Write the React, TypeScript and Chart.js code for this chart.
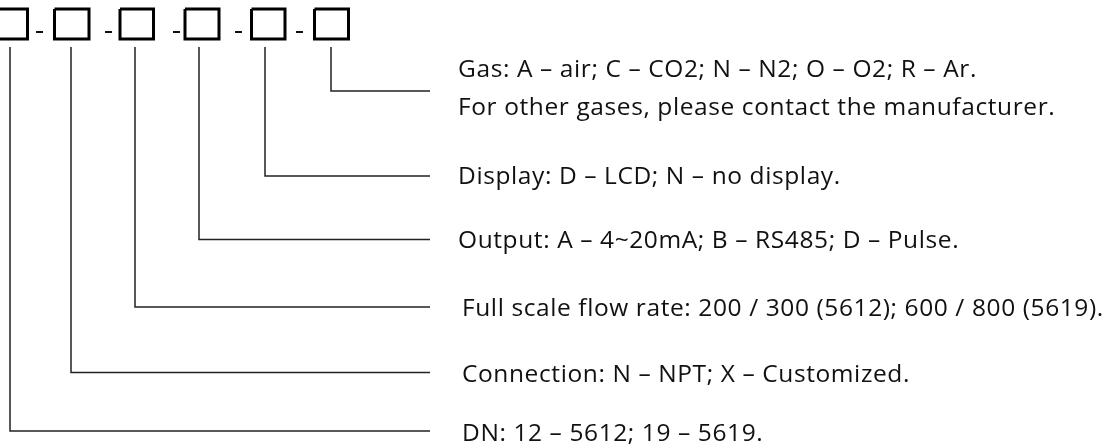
import React, { useEffect, useRef } from "react";
import { Chart, registerables } from "chart.js";

Chart.register(...registerables);

// Ordering code segments (left to right) and their meanings
const segmentNames = ["DN", "Connection", "Full scale", "Output", "Display", "Gas"];

// Box outline edges (diagram units)
const boxLeft = [-6.5, 54.5, 120, 185, 251.5, 314.5];
const boxRight = [27.5, 89, 153.5, 219, 285, 348.5];
const boxTop = 9;
const boxBottom = 39;

// Dashes between boxes
const dashStart = [36, 105, 173, 235, 296];
const dashEnd = [43, 112, 180, 242, 303];
const dashY = 32;

// Leader lines: x under each box, y of the horizontal run
const leaderX = [10, 71, 135, 199, 265, 331];
const leaderY = [431, 372.5, 307, 239.5, 176, 91];
const leaderTop = 47;
const leaderEnd = 430;

// Label texts for each segment
const labelLines: string[][] = [
  ["DN: 12 – 5612; 19 – 5619."],
  ["Connection: N – NPT; X – Customized."],
  ["Full scale flow rate: 200 / 300 (5612); 600 / 800 (5619)."],
  ["Output: A – 4~20mA; B – RS485; D – Pulse."],
  ["Display: D – LCD; N – no display."],
  [
    "Gas: A – air; C – CO2; N – N2; O – O2; R – Ar.",
    "For other gases, please contact the manufacturer.",
  ],
];
const labelX = [462, 462, 462, 458, 458, 458];
const labelBaseline = [440.5, 381.5, 316, 248, 183.5, 76.5];
const labelLineGap = 38;

const FONT = "24.5px 'Open Sans'";

export default function App() {
  const ref = useRef<HTMLCanvasElement | null>(null);

  useEffect(() => {
    if (!ref.current) return;
    const datasets: any[] = [];
    segmentNames.forEach((name, i) => {
      datasets.push({
        label: name + " box",
        data: [
          { x: boxLeft[i], y: boxTop },
          { x: boxRight[i], y: boxTop },
          { x: boxRight[i], y: boxBottom },
          { x: boxLeft[i], y: boxBottom },
          { x: boxLeft[i], y: boxTop },
        ],
        showLine: true,
        borderColor: "#000",
        borderWidth: 3,
        pointRadius: 0,
        fill: false,
        borderJoinStyle: "miter",
      });
      datasets.push({
        label: name + " leader",
        data: [
          { x: leaderX[i], y: leaderTop },
          { x: leaderX[i], y: leaderY[i] },
          { x: leaderEnd, y: leaderY[i] },
        ],
        showLine: true,
        borderColor: "#222",
        borderWidth: 1.5,
        pointRadius: 0,
        fill: false,
        borderJoinStyle: "miter",
      });
    });
    dashStart.forEach((s, i) => {
      datasets.push({
        label: "dash " + i,
        data: [
          { x: s, y: dashY },
          { x: dashEnd[i], y: dashY },
        ],
        showLine: true,
        borderColor: "#111",
        borderWidth: 2,
        pointRadius: 0,
      });
    });

    const textPlugin = {
      id: "labels",
      afterDatasetsDraw(chart: any) {
        const { ctx, scales } = chart;
        ctx.save();
        ctx.fillStyle = "#111";
        ctx.font = FONT;
        try {
          (ctx as any).letterSpacing = "0.6px";
        } catch (e) {}
        ctx.textAlign = "left";
        ctx.textBaseline = "alphabetic";
        labelLines.forEach((lines, i) => {
          lines.forEach((t, j) => {
            const px = scales.x.getPixelForValue(labelX[i]);
            const py = scales.y.getPixelForValue(labelBaseline[i] + j * labelLineGap);
            ctx.fillText(t, px, py);
          });
        });
        ctx.restore();
      },
    };

    const chart = new Chart(ref.current, {
      type: "scatter",
      data: { datasets },
      options: {
        animation: false,
        responsive: false,
        devicePixelRatio: 1,
        layout: { padding: 0 },
        plugins: { legend: { display: false }, tooltip: { enabled: false } },
        elements: { line: { tension: 0 } },
        scales: {
          x: { type: "linear", min: 0, max: 1102, display: false },
          y: { type: "linear", min: 0, max: 446, reverse: true, display: false },
        },
      },
      plugins: [textPlugin],
    });
    return () => chart.destroy();
  }, []);

  return (
    <div style={{ position: "absolute", left: 0, top: 0, width: 1102, height: 446, background: "#fff" }}>
      <canvas ref={ref} width={1102} height={446} style={{ display: "block" }} />
    </div>
  );
}
